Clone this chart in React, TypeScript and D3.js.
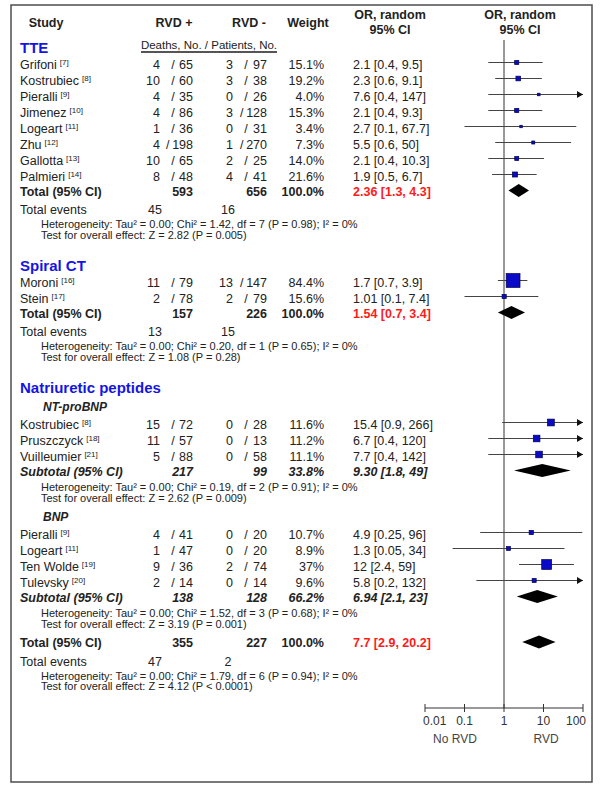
import React from "react";
import * as d3 from "d3";

// ---------- data ----------
const sectionTitles = ["TTE", "Spiral CT", "Natriuretic peptides"];
const subsectionTitles = ["NT-proBNP", "BNP"];

const studyNames = ["Grifoni", "Kostrubiec", "Pieralli", "Jimenez", "Logeart", "Zhu", "Gallotta", "Palmieri", "Moroni", "Stein", "Kostrubiec", "Pruszczyck", "Vuilleumier", "Pieralli", "Logeart", "Ten Wolde", "Tulevsky"];
const studyRefs = ["7", "8", "9", "10", "11", "12", "13", "14", "16", "17", "8", "18", "21", "9", "11", "19", "20"];
const studyGroup = [0, 0, 0, 0, 0, 0, 0, 0, 1, 1, 2, 2, 2, 3, 3, 3, 3];
const posEvents = ["4", "10", "4", "4", "1", "4", "10", "8", "11", "2", "15", "11", "5", "4", "1", "9", "2"];
const posTotal = ["65", "60", "35", "86", "36", "198", "65", "48", "79", "78", "72", "57", "88", "41", "47", "36", "14"];
const negEvents = ["3", "3", "0", "3", "0", "1", "2", "4", "13", "2", "0", "0", "0", "0", "0", "2", "0"];
const negTotal = ["97", "38", "26", "128", "31", "270", "25", "41", "147", "79", "28", "13", "58", "20", "20", "74", "14"];
const studyWeight = ["15.1", "19.2", "4.0", "15.3", "3.4", "7.3", "14.0", "21.6", "84.4", "15.6", "11.6", "11.2", "11.1", "10.7", "8.9", "37", "9.6"];
const studyOR = ["2.1", "2.3", "7.6", "2.1", "2.7", "5.5", "2.1", "1.9", "1.7", "1.01", "15.4", "6.7", "7.7", "4.9", "1.3", "12", "5.8"];
const studyLo = ["0.4", "0.6", "0.4", "0.4", "0.1", "0.6", "0.4", "0.5", "0.7", "0.1", "0.9", "0.4", "0.4", "0.25", "0.05", "2.4", "0.2"];
const studyHi = ["9.5", "9.1", "147", "9.3", "67.7", "50", "10.3", "6.7", "3.9", "7.4", "266", "120", "142", "96", "34", "59", "132"];

const sumLabels = ["Total (95% CI)", "Total (95% CI)", "Subtotal (95% CI)", "Subtotal (95% CI)", "Total (95% CI)"];
const sumIsSubtotal = [false, false, true, true, false];
const sumPos = ["593", "157", "217", "138", "355"];
const sumNeg = ["656", "226", "99", "128", "227"];
const sumWeight = ["100.0", "100.0", "33.8", "66.2", "100.0"];
const sumOR = ["2.36", "1.54", "9.30", "6.94", "7.7"];
const sumLo = ["1.3", "0.7", "1.8", "2.1", "2.9"];
const sumHi = ["4.3", "3.4", "49", "23", "20.2"];

const eventsPos = ["45", "13", "47"];
const eventsNeg = ["16", "15", "2"];

const hetTexts = [
  "Heterogeneity: Tau\u00b2 = 0.00; Chi\u00b2 = 1.42, df = 7 (P = 0.98); I\u00b2 = 0%",
  "Heterogeneity: Tau\u00b2 = 0.00; Chi\u00b2 = 0.20, df = 1 (P = 0.65); I\u00b2 = 0%",
  "Heterogeneity: Tau\u00b2 = 0.00; Chi\u00b2 = 0.19, df = 2 (P = 0.91); I\u00b2 = 0%",
  "Heterogeneity: Tau\u00b2 = 0.00; Chi\u00b2 = 1.52, df = 3 (P = 0.68); I\u00b2 = 0%",
  "Heterogeneity: Tau\u00b2 = 0.00; Chi\u00b2 = 1.79, df = 6 (P = 0.94); I\u00b2 = 0%",
];
const testTexts = [
  "Test for overall effect: Z = 2.82 (P = 0.005)",
  "Test for overall effect: Z = 1.08 (P = 0.28)",
  "Test for overall effect: Z = 2.62 (P = 0.009)",
  "Test for overall effect: Z = 3.19 (P = 0.001)",
  "Test for overall effect: Z = 4.12 (P < 0.0001)",
];

const groupTotalWeight = [100, 100, 33.8, 66.2];
const axisTicks = [0.01, 0.1, 1, 10, 100];
const tickLabels = ["0.01", "0.1", "1", "10", "100"];
const axisCaptions = ["No RVD", "RVD"];

// ---------- layout ----------
type Row = { kind: string; i: number; y: number };

function buildRows(): Row[] {
  const seq: [string, number][] = [];
  const studiesOf = (g: number) =>
    studyGroup.forEach((gg, i) => { if (gg === g) seq.push(["study", i]); });
  seq.push(["section", 0]); studiesOf(0); seq.push(["sum", 0], ["events", 0], ["het", 0], ["test", 0]);
  seq.push(["section", 1]); studiesOf(1); seq.push(["sum", 1], ["events", 1], ["het", 1], ["test", 1]);
  seq.push(["section", 2], ["sub", 0]); studiesOf(2); seq.push(["sum", 2], ["het", 2], ["test", 2]);
  seq.push(["sub", 1]); studiesOf(3); seq.push(["sum", 3], ["het", 3], ["test", 3]);
  seq.push(["sum", 4], ["events", 2], ["het", 4], ["test", 4]);

  const gap = (p: string, k: string) => {
    if (k === "section") return 31;
    if (k === "sub") return 19;
    if (k === "study") return p === "study" ? 16 : p === "section" ? 17 : 18;
    if (k === "sum") return p === "test" ? 19 : 14.5;
    if (k === "events") return 18.5;
    if (k === "het") return p === "events" ? 14.5 : 16;
    if (k === "test") return 10.5;
    return 16;
  };
  const rows: Row[] = [];
  let y = 48;
  seq.forEach(([k, i], idx) => {
    if (idx > 0) y += gap(seq[idx - 1][0], k);
    rows.push({ kind: k, i, y });
  });
  return rows;
}

const FONT = "'Liberation Sans', Arial, Helvetica, sans-serif";
const TXT = "#222";
const FS = 12.5;

export default function App() {
  const x = d3.scaleLog().domain([0.01, 100]).range([425, 583]);
  const sizeScale = d3.scaleLinear().domain([0, 100]).range([2, 16]);
  const rows = buildRows();
  const axisY = 708;
  const xMax = x(100);

  const cols = { name: 20, pe: 160, ps: 173, pt: 193, ne: 233, ns: 246, nt: 267, w: 324, or: 353 };
  const digitW = FS * 0.556;
  const slashX = (fixed: number, right: number, denom: string) =>
    Math.min(fixed, right - denom.length * digitW - 4.5);

  const diamond = (or: number, lo: number, hi: number, cy: number) => {
    const h = 6.5;
    return `M${x(lo)},${cy} L${x(or)},${cy - h} L${x(hi)},${cy} L${x(or)},${cy + h} Z`;
  };

  const elements: React.ReactNode[] = [];
  rows.forEach((r, idx) => {
    const y = r.y;
    const key = `r${idx}`;
    if (r.kind === "section") {
      elements.push(
        <text key={key} x={cols.name} y={y} dy="0.35em" fontSize={15} fontWeight="bold" fill="#1414e6">
          {sectionTitles[r.i]}
        </text>
      );
    } else if (r.kind === "sub") {
      elements.push(
        <text key={key} x={43} y={y} dy="0.35em" fontSize={12} fontWeight="bold" fontStyle="italic" fill={TXT}>
          {subsectionTitles[r.i]}
        </text>
      );
    } else if (r.kind === "study") {
      const i = r.i;
      const or = +studyOR[i], lo = +studyLo[i], hi = +studyHi[i];
      const rel = (+studyWeight[i] / groupTotalWeight[studyGroup[i]]) * 100;
      const s = sizeScale(rel);
      const my = y - 2.5;
      const x2 = Math.min(x(hi), xMax);
      elements.push(
        <g key={key}>
          <text x={cols.name} y={y} dy="0.35em" fontSize={FS} fill={TXT}>
            {studyNames[i]}
            <tspan fontSize={8} dx={3} dy={-4}>{`[${studyRefs[i]}]`}</tspan>
          </text>
          <g fontSize={FS} fill={TXT}>
            <text x={cols.pe} y={y} dy="0.35em" textAnchor="end">{posEvents[i]}</text>
            <text x={slashX(cols.ps, cols.pt, posTotal[i])} y={y} dy="0.35em" textAnchor="middle">/</text>
            <text x={cols.pt} y={y} dy="0.35em" textAnchor="end">{posTotal[i]}</text>
            <text x={cols.ne} y={y} dy="0.35em" textAnchor="end">{negEvents[i]}</text>
            <text x={slashX(cols.ns, cols.nt, negTotal[i])} y={y} dy="0.35em" textAnchor="middle">/</text>
            <text x={cols.nt} y={y} dy="0.35em" textAnchor="end">{negTotal[i]}</text>
            <text x={cols.w} y={y} dy="0.35em" textAnchor="end">{studyWeight[i] + "%"}</text>
            <text x={cols.or} y={y} dy="0.35em">{`${studyOR[i]} [${studyLo[i]}, ${studyHi[i]}]`}</text>
          </g>
          <line x1={x(lo)} x2={x2} y1={my} y2={my} stroke="#444" strokeWidth={1} />
          {hi > 100 && (
            <path d={`M${xMax},${my} L${xMax - 6},${my - 3.5} L${xMax - 6},${my + 3.5} Z`} fill="#111" />
          )}
          <rect x={x(or) - s / 2} y={my - s / 2} width={s} height={s} fill="#0a0ac8" stroke="#00004a" strokeWidth={0.7} />
        </g>
      );
    } else if (r.kind === "sum") {
      const i = r.i;
      const sub = sumIsSubtotal[i];
      const style = sub ? "italic" : "normal";
      elements.push(
        <g key={key} fontSize={FS} fontWeight="bold" fontStyle={style} fill={TXT}>
          <text x={cols.name} y={y} dy="0.35em">{sumLabels[i]}</text>
          <text x={cols.pt} y={y} dy="0.35em" textAnchor="end">{sumPos[i]}</text>
          <text x={cols.nt} y={y} dy="0.35em" textAnchor="end">{sumNeg[i]}</text>
          <text x={cols.w} y={y} dy="0.35em" textAnchor="end">{sumWeight[i] + "%"}</text>
          <text x={cols.or} y={y} dy="0.35em" fill={sub ? TXT : "#ff1a1a"}>{`${sumOR[i]} [${sumLo[i]}, ${sumHi[i]}]`}</text>
          <path d={diamond(+sumOR[i], +sumLo[i], +sumHi[i], y - 1)} fill="#000" />
        </g>
      );
    } else if (r.kind === "events") {
      elements.push(
        <g key={key} fontSize={FS} fill={TXT}>
          <text x={cols.name} y={y} dy="0.35em">Total events</text>
          <text x={155} y={y} dy="0.35em" textAnchor="middle">{eventsPos[r.i]}</text>
          <text x={228} y={y} dy="0.35em" textAnchor="middle">{eventsNeg[r.i]}</text>
        </g>
      );
    } else if (r.kind === "het") {
      elements.push(
        <text key={key} x={41} y={y} dy="0.35em" fontSize={11} fill={TXT}>{hetTexts[r.i]}</text>
      );
    } else if (r.kind === "test") {
      elements.push(
        <text key={key} x={41} y={y} dy="0.35em" fontSize={11} fill={TXT}>{testTexts[r.i]}</text>
      );
    }
  });

  return (
    <svg width={600} height={790} style={{ position: "absolute", left: 0, top: 0, background: "#fff" }} fontFamily={FONT}>
      <rect x={0} y={0} width={600} height={790} fill="#fff" />
      <rect x={11} y={5} width={581} height={777} fill="none" stroke="#4d4d4d" strokeWidth={1.5} />

      {/* header */}
      <g fontSize={12.5} fontWeight="bold" fill={TXT} textAnchor="middle">
        <text x={46} y={23} dy="0.35em">Study</text>
        <text x={174} y={23} dy="0.35em">RVD +</text>
        <text x={249} y={23} dy="0.35em">RVD -</text>
        <text x={308} y={23} dy="0.35em">Weight</text>
        <text x={390} y={15} dy="0.35em">OR, random</text>
        <text x={390} y={30} dy="0.35em">95% CI</text>
        <text x={520} y={15} dy="0.35em">OR, random</text>
        <text x={520} y={30} dy="0.35em">95% CI</text>
      </g>
      <text x={209} y={45} dy="0.35em" fontSize={11.5} fill={TXT} textAnchor="middle">Deaths, No. / Patients, No.</text>
      <line x1={141} x2={277} y1={52} y2={52} stroke="#555" strokeWidth={2} />

      {/* reference line */}
      <line x1={x(1)} x2={x(1)} y1={40} y2={axisY} stroke="#333" strokeWidth={1} />

      {elements}

      {/* axis */}
      <line x1={x(0.01)} x2={x(100)} y1={axisY} y2={axisY} stroke="#333" strokeWidth={1} />
      {axisTicks.map((t, k) => (
        <g key={`t${k}`}>
          <line x1={x(t)} x2={x(t)} y1={axisY - 4} y2={axisY + 4} stroke="#333" strokeWidth={1} />
          <text
            x={k === 0 ? x(t) - 2 : k === axisTicks.length - 1 ? x(t) + 3 : x(t)}
            y={721}
            dy="0.35em"
            fontSize={12}
            fill="#333"
            textAnchor={k === 0 ? "start" : k === axisTicks.length - 1 ? "end" : "middle"}
          >
            {tickLabels[k]}
          </text>
        </g>
      ))}
      <text x={455} y={739} dy="0.35em" fontSize={12} fill="#444" textAnchor="middle">{axisCaptions[0]}</text>
      <text x={546} y={739} dy="0.35em" fontSize={12} fill="#444" textAnchor="middle">{axisCaptions[1]}</text>
    </svg>
  );
}
